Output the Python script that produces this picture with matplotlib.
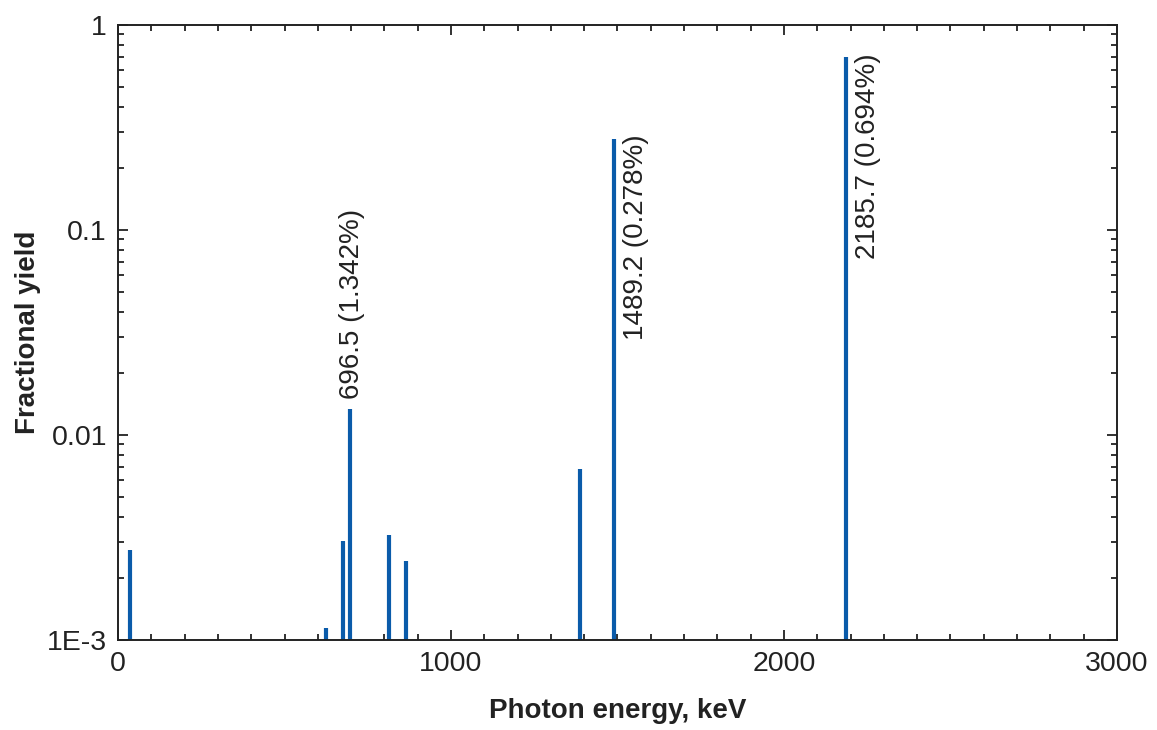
"""Gamma line spectrum, fractional yield vs photon energy"""

import matplotlib
matplotlib.use("Agg")
import matplotlib.pyplot as plt
from matplotlib.ticker import FixedLocator, MultipleLocator, LogLocator, NullFormatter

plt.rcParams['font.family'] = ['Liberation Sans', 'DejaVu Sans']

# line energies (keV) and fractional yields
energies = [36.0, 624.7, 674.6, 696.5, 814.1, 864.0, 1388.0, 1489.2, 2185.7]
yields = [0.00275, 0.00114, 0.00303, 0.01342, 0.00325, 0.00243, 0.0068, 0.278, 0.694]

# labelled lines
label_energies = [696.5, 1489.2, 2185.7]
label_texts = ['696.5 (1.342%)', '1489.2 (0.278%)', '2185.7 (0.694%)']

y_ticks = [1e-3, 1e-2, 1e-1, 1]
y_tick_labels = ['1E-3', '0.01', '0.1', '1']

BLUE = '#0A5BAA'
INK = '#222222'


def main():
    fig = plt.figure(figsize=(11.57, 7.30), dpi=100)
    ax = fig.add_axes([0.102, 0.1233, 0.8634, 0.8425])

    ax.vlines(energies, 1e-3, yields, color=BLUE, linewidth=3)

    ax.set_yscale('log')
    ax.set_xlim(0, 3000)
    ax.set_ylim(1e-3, 1)

    ax.xaxis.set_major_locator(MultipleLocator(1000))
    ax.xaxis.set_minor_locator(MultipleLocator(100))
    ax.yaxis.set_major_locator(FixedLocator(y_ticks))
    ax.set_yticklabels(y_tick_labels)
    ax.yaxis.set_minor_locator(LogLocator(base=10, subs=range(2, 10)))
    ax.yaxis.set_minor_formatter(NullFormatter())

    ax.tick_params(which='both', direction='in', top=True, right=True,
                   width=1.3, colors=INK, labelsize=20.5, labelcolor=INK)
    ax.tick_params(which='major', length=7, pad=8)
    ax.tick_params(which='minor', length=4)
    for s in ax.spines.values():
        s.set_linewidth(1.4)
        s.set_color(INK)

    # rotated labels next to the strong lines
    for e, t in zip(label_energies, label_texts):
        y = yields[energies.index(e)]
        if e < 1000:
            ax.text(e + 5, y * 1.12, t, rotation=90, ha='center', va='bottom',
                    fontsize=20, color=INK)
        else:
            ax.text(e + 66, y * 1.05, t, rotation=90, ha='center', va='top',
                    fontsize=20, color=INK)

    ax.set_xlabel('Photon energy, keV', fontsize=20, fontweight='bold',
                  color=INK, labelpad=15)
    ax.set_ylabel('Fractional yield', fontsize=20, fontweight='bold',
                  color=INK, labelpad=4)

    fig.savefig('out.png', dpi=100)


if __name__ == "__main__":
    main()
